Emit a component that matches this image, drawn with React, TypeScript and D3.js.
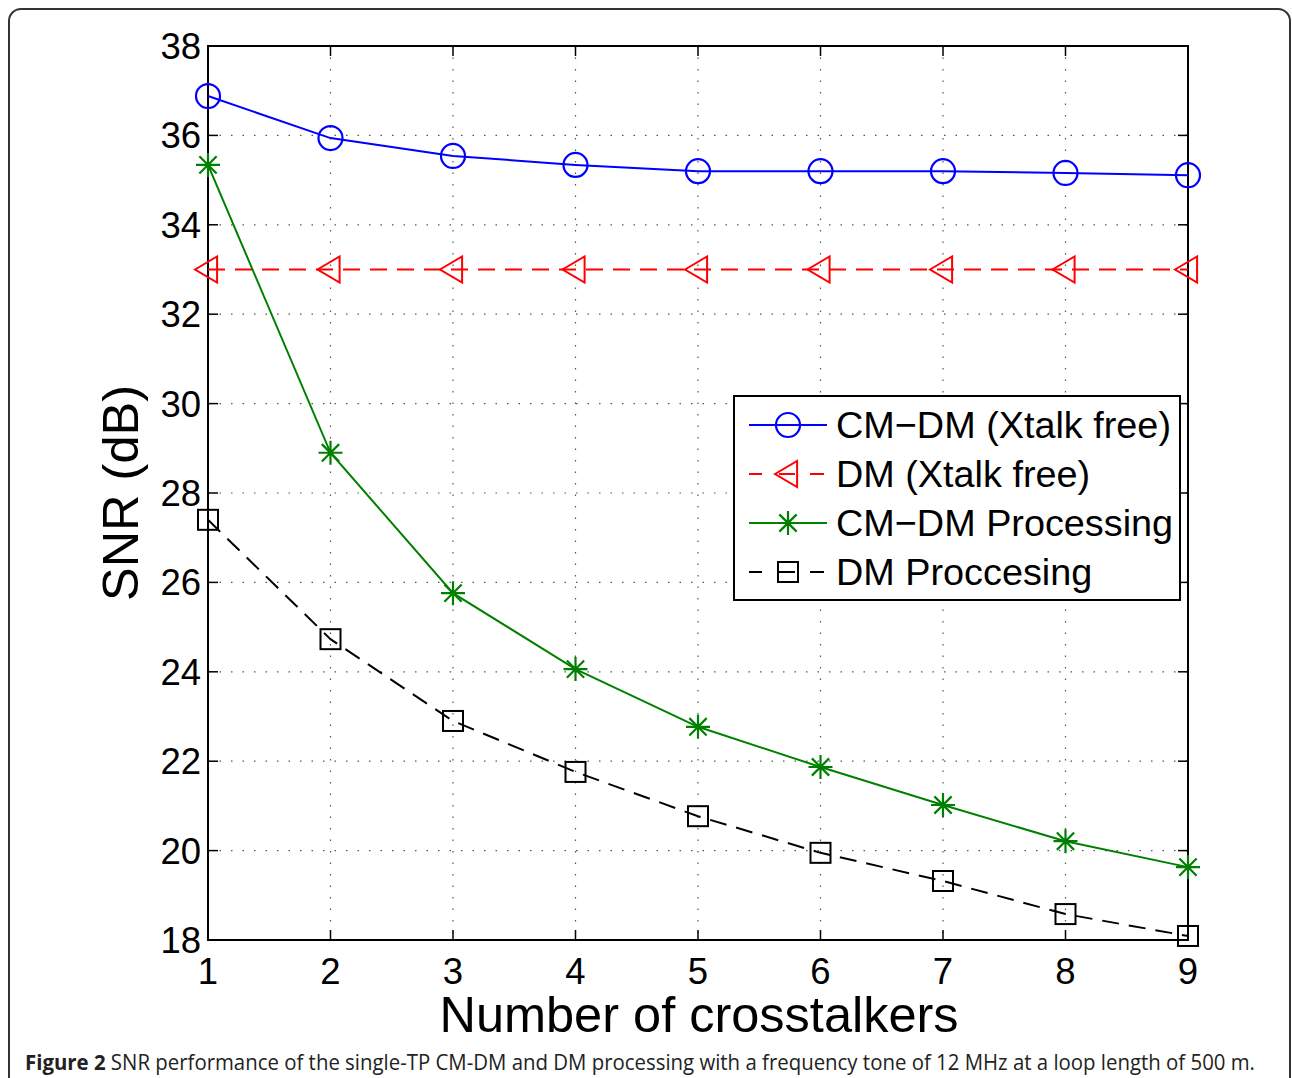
import React, { useEffect, useRef } from 'react';
import * as d3 from 'd3';

const crosstalkers = [1, 2, 3, 4, 5, 6, 7, 8, 9];
const cmdmFree = [36.88, 35.94, 35.54, 35.34, 35.2, 35.2, 35.2, 35.16, 35.11];
const dmFree = [33, 33, 33, 33, 33, 33, 33, 33, 33];
const cmdmProc = [35.34, 28.9, 25.76, 24.06, 22.77, 21.87, 21.02, 20.21, 19.63];
const dmProc = [27.4, 24.73, 22.9, 21.76, 20.77, 19.95, 19.32, 18.58, 18.09];
const yTicks = [18, 20, 22, 24, 26, 28, 30, 32, 34, 36, 38];
const seriesNames = ['CM\u2212DM (Xtalk free)', 'DM (Xtalk free)', 'CM\u2212DM Processing', 'DM Proccesing'];

const W = 1292;
const H = 1078;
const FONT = 'Liberation Sans, Arial, Helvetica, sans-serif';

export default function App() {
  const ref = useRef<SVGSVGElement>(null);

  useEffect(() => {
    const svg = d3.select(ref.current);
    svg.selectAll('*').remove();

    const x = d3.scaleLinear().domain([1, 9]).range([208, 1188]);
    const y = d3.scaleLinear().domain([18, 38]).range([940, 46]);

    // outer frame, open at bottom
    svg.append('rect')
      .attr('x', 9).attr('y', 9).attr('width', 1281).attr('height', 1120)
      .attr('rx', 12).attr('fill', 'none').attr('stroke', '#333').attr('stroke-width', 2);

    const g = svg.append('g');

    // grid
    g.selectAll('.gx').data(crosstalkers.slice(1, -1)).enter().append('line')
      .attr('x1', (d) => x(d)).attr('x2', (d) => x(d)).attr('y1', y(38)).attr('y2', y(18))
      .attr('stroke', '#555').attr('stroke-width', 1.2).attr('stroke-dasharray', '1.5,10');
    g.selectAll('.gy').data(yTicks.slice(1, -1)).enter().append('line')
      .attr('y1', (d) => y(d)).attr('y2', (d) => y(d)).attr('x1', x(1)).attr('x2', x(9))
      .attr('stroke', '#555').attr('stroke-width', 1.2).attr('stroke-dasharray', '1.5,10');

    // axes box + inward ticks
    g.append('rect').attr('x', x(1)).attr('y', y(38)).attr('width', x(9) - x(1)).attr('height', y(18) - y(38))
      .attr('fill', 'none').attr('stroke', '#000').attr('stroke-width', 2);
    const tl = 10;
    crosstalkers.forEach((d) => {
      g.append('line').attr('x1', x(d)).attr('x2', x(d)).attr('y1', y(18)).attr('y2', y(18) - tl).attr('stroke', '#000').attr('stroke-width', 1.5);
      g.append('line').attr('x1', x(d)).attr('x2', x(d)).attr('y1', y(38)).attr('y2', y(38) + tl).attr('stroke', '#000').attr('stroke-width', 1.5);
    });
    yTicks.forEach((d) => {
      g.append('line').attr('x1', x(1)).attr('x2', x(1) + tl).attr('y1', y(d)).attr('y2', y(d)).attr('stroke', '#000').attr('stroke-width', 1.5);
      g.append('line').attr('x1', x(9)).attr('x2', x(9) - tl).attr('y1', y(d)).attr('y2', y(d)).attr('stroke', '#000').attr('stroke-width', 1.5);
    });

    // tick labels
    g.selectAll('.xt').data(crosstalkers).enter().append('text')
      .attr('x', (d) => x(d)).attr('y', 984).attr('text-anchor', 'middle')
      .attr('font-family', FONT).attr('font-size', 36.5).text((d) => d);
    g.selectAll('.yt').data(yTicks).enter().append('text')
      .attr('x', 201).attr('y', (d) => y(d) + 13).attr('text-anchor', 'end')
      .attr('font-family', FONT).attr('font-size', 36.5).text((d) => d);

    // axis titles
    g.append('text').attr('x', 699).attr('y', 1032).attr('text-anchor', 'middle')
      .attr('font-family', FONT).attr('font-size', 50.5).text('Number of crosstalkers');
    g.append('text').attr('transform', 'translate(138,493) rotate(-90)').attr('text-anchor', 'middle')
      .attr('font-family', FONT).attr('font-size', 50.5).text('SNR (dB)');

    const series = [
      { vals: cmdmFree, color: '#0000ff', dash: null, marker: 'circle' },
      { vals: dmFree, color: '#ff0000', dash: '17,10', marker: 'tri' },
      { vals: cmdmProc, color: '#008000', dash: null, marker: 'star' },
      { vals: dmProc, color: '#000000', dash: '17,10', marker: 'square' },
    ];

    const drawMarker = (sel: any, kind: string, cx: number, cy: number, color: string) => {
      if (kind === 'circle') {
        sel.append('circle').attr('cx', cx).attr('cy', cy).attr('r', 12)
          .attr('fill', 'none').attr('stroke', color).attr('stroke-width', 2.2);
      } else if (kind === 'tri') {
        const s = 13;
        sel.append('path').attr('d', `M${cx - s},${cy} L${cx + s * 0.7},${cy - s} L${cx + s * 0.7},${cy + s} Z`)
          .attr('fill', 'none').attr('stroke', color).attr('stroke-width', 2);
      } else if (kind === 'star') {
        const s = 12;
        const d = s * 0.72;
        sel.append('path')
          .attr('d', `M${cx - s},${cy}H${cx + s}M${cx},${cy - s}V${cy + s}M${cx - d},${cy - d}L${cx + d},${cy + d}M${cx - d},${cy + d}L${cx + d},${cy - d}`)
          .attr('fill', 'none').attr('stroke', color).attr('stroke-width', 2.2);
      } else {
        const s = 10;
        sel.append('rect').attr('x', cx - s).attr('y', cy - s).attr('width', 2 * s).attr('height', 2 * s)
          .attr('fill', 'none').attr('stroke', color).attr('stroke-width', 2);
      }
    };

    const line = d3.line<number>().x((_, i) => x(crosstalkers[i])).y((d) => y(d));
    series.forEach((s) => {
      g.append('path').attr('d', line(s.vals)).attr('fill', 'none').attr('stroke', s.color)
        .attr('stroke-width', 2).attr('stroke-dasharray', s.dash);
      s.vals.forEach((v, i) => drawMarker(g, s.marker, x(crosstalkers[i]), y(v), s.color));
    });

    // legend
    const lg = svg.append('g');
    lg.append('rect').attr('x', 734).attr('y', 396).attr('width', 446).attr('height', 204)
      .attr('fill', '#fff').attr('stroke', '#000').attr('stroke-width', 2);
    series.forEach((s, i) => {
      const ly = 425 + i * 49;
      if (s.dash) {
        lg.append('line').attr('x1', 749).attr('x2', 762).attr('y1', ly).attr('y2', ly).attr('stroke', s.color).attr('stroke-width', 2);
        lg.append('line').attr('x1', 810).attr('x2', 824).attr('y1', ly).attr('y2', ly).attr('stroke', s.color).attr('stroke-width', 2);
        lg.append('line').attr('x1', 779).attr('x2', 795).attr('y1', ly).attr('y2', ly).attr('stroke', s.color).attr('stroke-width', 2);
      } else {
        lg.append('line').attr('x1', 749).attr('x2', 827).attr('y1', ly).attr('y2', ly).attr('stroke', s.color).attr('stroke-width', 2);
      }
      drawMarker(lg, s.marker, 788, ly, s.color);
      lg.append('text').attr('x', 836).attr('y', ly + 13).attr('font-family', FONT).attr('font-size', 37.8).text(seriesNames[i]);
    });

    // caption
    const cap = svg.append('text').attr('x', 25).attr('y', 1070)
      .attr('font-family', 'Liberation Sans Narrow, Open Sans, sans-serif').attr('font-size', 21)
      .attr('fill', '#222').attr('textLength', 1230).attr('lengthAdjust', 'spacingAndGlyphs');
    cap.append('tspan').attr('font-weight', 'bold').text('Figure 2');
    cap.append('tspan').text(' SNR performance of the single-TP CM-DM and DM processing with a frequency tone of 12 MHz at a loop length of 500 m.');
  }, []);

  return (
    <svg ref={ref} width={W} height={H} style={{ position: 'absolute', left: 0, top: 0, background: '#fff' }} />
  );
}
